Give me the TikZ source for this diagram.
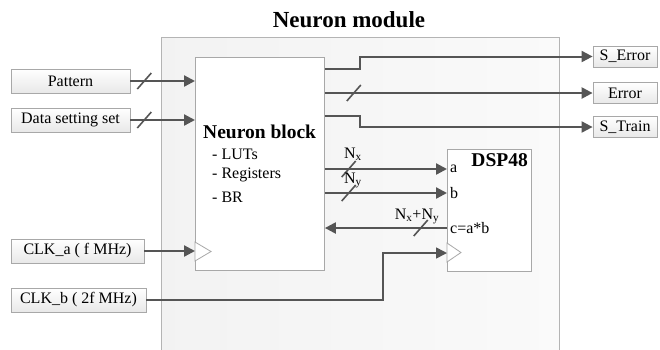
\documentclass[tikz,border=0pt]{standalone}
\usepackage{fontspec}
\setmainfont{Liberation Serif}
\usetikzlibrary{arrows.meta,calc}
\definecolor{ln}{HTML}{555555}
\definecolor{bd}{HTML}{A8A8A8}
\definecolor{modbd}{HTML}{B4B4B4}
\begin{document}
\begin{tikzpicture}[x=1pt,y=-1pt,
  txt/.style={font=\fontsize{16}{18}\selectfont, text=black},
  boldtxt/.style={font=\fontsize{19.5}{22}\selectfont\bfseries, text=black},
  iobox/.style={txt, draw=bd, line width=0.8pt, top color=white, bottom color=black!9, inner sep=0pt},
  modbox/.style={draw=modbd, line width=1pt, left color=black!5, right color=black!2, inner sep=0pt},
  blk/.style={draw=bd, line width=0.9pt, fill=white, inner sep=0pt},
  tip/.style={-{Triangle[length=11pt,width=11pt]}},
  arr/.style={draw=ln, line width=2.3pt, tip},
  plainln/.style={draw=ln, line width=2pt},
  thinln/.style={draw=ln, line width=1.6pt},
  clk/.style={draw=bd, line width=0.8pt, fill=white},
  busmark/.pic={\draw[ln, line width=1.6pt] (-7,8) -- (7,-8);}
]
\useasboundingbox (0,0) rectangle (660,349);

% title and module
\node[font=\fontsize{23}{26}\selectfont\bfseries, anchor=base] (title) at (349,27) {Neuron module};
\node[modbox, anchor=north west, minimum width=398pt, minimum height=330pt] (mod) at (161,37) {};

% blocks
\node[blk, anchor=north west, minimum width=129pt, minimum height=213pt] (nb) at (195,57) {};
\node[blk, anchor=north west, minimum width=84pt, minimum height=122pt] (dsp) at (447,149) {};

% block texts
\node[boldtxt, anchor=base west, inner sep=0pt] (nbt) at (203,138) {Neuron block};
\node[txt, anchor=base west, inner sep=0pt] (luts) at (212,159) {- LUTs};
\node[txt, anchor=base west, inner sep=0pt] (regs) at (212,178) {- Registers};
\node[txt, anchor=base west, inner sep=0pt] (br) at (212,202) {- BR};
\node[boldtxt, anchor=base east, inner sep=0pt] (dspt) at (528,166) {DSP48};
\node[txt, anchor=base west, inner sep=0pt] (pa) at (450,172) {a};
\node[txt, anchor=base west, inner sep=0pt] (pb) at (450,198) {b};
\node[txt, anchor=base west, inner sep=0pt] (pc) at (450,233) {c=a*b};

% clock triangles
\draw[clk] (195,242) -- (211,251.5) -- (195,261) -- cycle;
\draw[clk] (447,243) -- (461,252.5) -- (447,262) -- cycle;

% input boxes
\node[iobox, minimum width=119pt, minimum height=24pt] (pat) at (70.5,81) {Pattern};
\node[iobox, minimum width=119pt, minimum height=24pt] (dss) at (70.5,120) {Data setting set};
\node[iobox, minimum width=133pt, minimum height=24pt] (clka) at (77.5,251) {CLK\_a ( f MHz)};
\node[iobox, minimum width=135pt, minimum height=24pt] (clkb) at (78.5,300) {CLK\_b ( 2f MHz)};

% output boxes
\node[iobox, minimum width=64pt, minimum height=21pt] (serr) at (625,56.5) {S\_Error};
\node[iobox, minimum width=64pt, minimum height=21pt] (err) at (625,93) {Error};
\node[iobox, minimum width=64pt, minimum height=21pt] (strn) at (625,127) {S\_Train};

% coordinates for ports
\coordinate (o1) at (nb.east |- 0,69);
\coordinate (o3) at (nb.east |- 0,116);
\coordinate (jx) at (dsp.west |- 0,169);
\coordinate (jy) at (dsp.west |- 0,193);
\coordinate (jc) at (dsp.west |- 0,228);
\coordinate (jk) at (dsp.west |- 0,253);

% input connectors
\draw[arr] (pat.east) -- coordinate[pos=0.215] (s1) (pat.east -| nb.west);
\draw[arr] (dss.east) -- coordinate[pos=0.215] (s2) (dss.east -| nb.west);
\draw[arr] (clka.east) -- (clka.east -| nb.west);
\draw[thinln, tip] (clkb.east) -- (383,300) |- (jk);

% output connectors
\draw[plainln, tip] (o1) -- (360,69) |- (serr.west);
\draw[arr] (nb.east |- err.west) -- coordinate[pos=0.108] (s3) (err.west);
\draw[plainln, tip] (o3) -- (360,116) |- (strn.west);

% block to DSP
\draw[arr] (nb.east |- jx) -- coordinate[pos=0.195] (s4) (jx);
\draw[arr] (nb.east |- jy) -- coordinate[pos=0.195] (s5) (jy);
\draw[arr] (jc) -- coordinate[pos=0.215] (s6) (nb.east |- jc);

% bus marks
\pic at (s1) {busmark};
\pic at (s2) {busmark};
\pic at (s3) {busmark};
\pic at (s4) {busmark};
\pic at (s5) {busmark};
\pic at (s6) {busmark};

% bus labels
\node[txt, anchor=base, inner sep=0pt] (lnx) at (353,158) {N\textsubscript{x}};
\node[txt, anchor=base, inner sep=0pt] (lny) at (353,183) {N\textsubscript{y}};
\node[txt, anchor=base, inner sep=0pt] (lnxy) at (417,219) {N\textsubscript{x}+N\textsubscript{y}};
\end{tikzpicture}
\end{document}
